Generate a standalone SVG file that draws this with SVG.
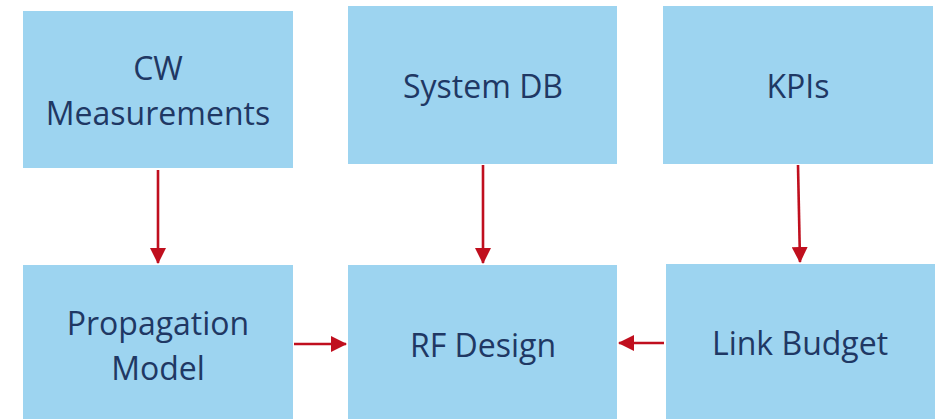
<svg xmlns="http://www.w3.org/2000/svg" width="946" height="419" viewBox="0 0 946 419">
  <style>
    .box { fill: #9dd4f0; }
    .label { font-family: "Open Sans", "Liberation Sans", sans-serif; font-size: 32px; fill: #1f3864; text-anchor: middle; }
    .flow { stroke: #c00f1e; stroke-width: 2.6; fill: none; marker-end: url(#head); }
  </style>
  <defs>
    <marker id="head" markerUnits="userSpaceOnUse" markerWidth="16" markerHeight="16" viewBox="0 0 16 16" refX="15" refY="8" orient="auto">
      <path d="M0,0 L16,8 L0,16 Z" fill="#c00f1e"/>
    </marker>
  </defs>
  <rect width="946" height="419" fill="#ffffff"/>

  <g id="cw-measurements">
    <rect class="box" x="23" y="11" width="270" height="157"/>
    <text class="label" x="158" y="80">CW</text>
    <text class="label" x="158" y="125">Measurements</text>
  </g>
  <g id="system-db">
    <rect class="box" x="348" y="6" width="269" height="158"/>
    <text class="label" x="483" y="98">System DB</text>
  </g>
  <g id="kpis">
    <rect class="box" x="663" y="6" width="270" height="158"/>
    <text class="label" x="798" y="98">KPIs</text>
  </g>
  <g id="propagation-model">
    <rect class="box" x="23" y="265" width="270" height="154"/>
    <text class="label" x="158" y="335">Propagation</text>
    <text class="label" x="158" y="380">Model</text>
  </g>
  <g id="rf-design">
    <rect class="box" x="348" y="265" width="269" height="154"/>
    <text class="label" x="483" y="357">RF Design</text>
  </g>
  <g id="link-budget">
    <rect class="box" x="666" y="264" width="269" height="155"/>
    <text class="label" x="800" y="355">Link Budget</text>
  </g>

  <g id="connectors">
    <line class="flow" x1="158" y1="170" x2="158" y2="263"/>
    <line class="flow" x1="483" y1="165" x2="483" y2="263"/>
    <line class="flow" x1="798" y1="165" x2="800" y2="262"/>
    <line class="flow" x1="294" y1="344" x2="346" y2="344"/>
    <line class="flow" x1="664" y1="343" x2="619" y2="343"/>
  </g>
</svg>
